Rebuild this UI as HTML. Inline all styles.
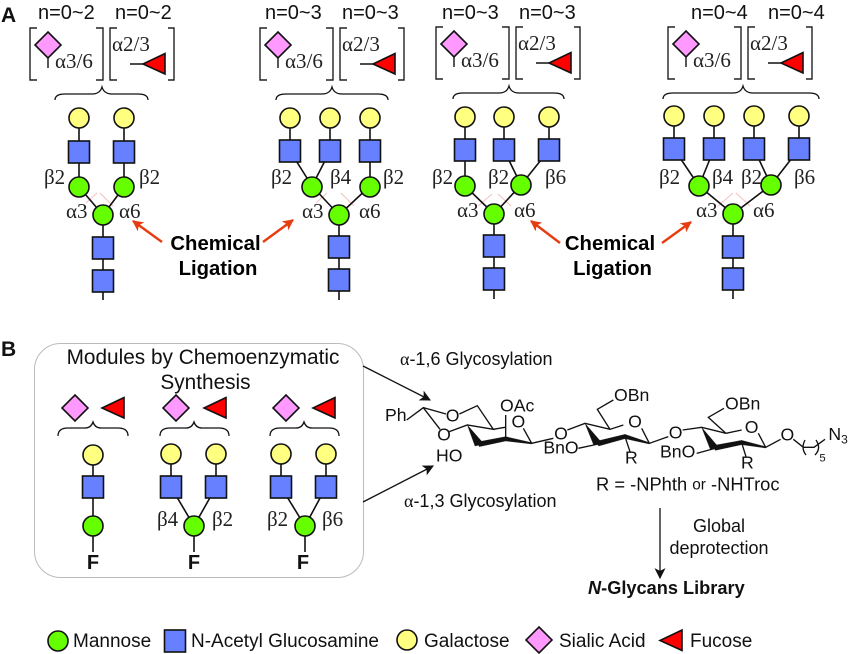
<!DOCTYPE html>
<html><head><meta charset="utf-8"><style>
html,body{margin:0;padding:0;background:#fff}
svg{display:block}
text{font-family:"Liberation Sans",sans-serif;fill:#111}
.g{font-family:"Liberation Serif",serif;font-size:21px;fill:#222}
.n{font-size:20px}
.c{font-size:20.3px;font-weight:bold;text-anchor:middle;fill:#000}
.l{font-size:19px}
.F{font-size:20px;font-weight:bold;text-anchor:middle;fill:#111}
.b{font-size:20.8px;text-anchor:middle}
.t{font-size:18px}
.mol text{font-size:53px}
.mol .o{text-anchor:middle}
.mol line,.mol path{stroke:#111;stroke-width:4;fill:none}
.mol .w{fill:#111;stroke:#111;stroke-width:1}
</style></head><body>
<svg width="848" height="654" viewBox="0 0 848 654" xmlns="http://www.w3.org/2000/svg">
<defs>
<circle id="ga" r="10" fill="#ffff80" stroke="#111" stroke-width="1.6"/>
<circle id="ma" r="10" fill="#66ff00" stroke="#111" stroke-width="1.6"/>
<rect id="sq" x="-10.500" y="-11" width="21" height="22" fill="#6680ff" stroke="#111" stroke-width="1.6"/>
<path id="di" d="M0-13L13 0L0 13L-13 0Z" fill="#ff99ff" stroke="#111" stroke-width="1.6"/>
<path id="tr" d="M11-10.500V10L-11 0Z" fill="#ff0000" stroke="#111" stroke-width="1.6"/>
<g id="hd" fill="none" stroke="#222" stroke-width="1.4">
<path d="M37 28H30V80H37M96 28H103V80H96M117 28H110V80H117M168 28H174V80H168"/>
<path d="M48 56V68M130 64H146" stroke="#111"/>
<use href="#di" x="48" y="45"/>
<use href="#tr" x="154" y="64"/>
</g>
<marker id="ar" viewBox="0 0 10 10" refX="9" refY="5" markerWidth="14" markerHeight="11" markerUnits="userSpaceOnUse" orient="auto"><path d="M0 0L10 5L0 10L2.500 5Z" fill="#e63c10"/></marker>
<marker id="ak" viewBox="0 0 10 10" refX="9" refY="5" markerWidth="15" markerHeight="11" markerUnits="userSpaceOnUse" orient="auto"><path d="M0 0L10 5L0 10L2.500 5Z" fill="#111"/></marker>
</defs>

<text x="1" y="22" style="font-size:21px;font-weight:bold;fill:#111">A</text>
<text x="1" y="356" style="font-size:21px;font-weight:bold;fill:#111">B</text>

<!-- headers -->
<use href="#hd"/><use href="#hd" x="230"/><use href="#hd" x="406" y="-1"/><use href="#hd" x="638" y="-1"/>
<text class="n" x="38" y="19">n=0~2</text><text class="n" x="115" y="19">n=0~2</text>
<text class="n" x="265" y="19">n=0~3</text><text class="n" x="342" y="19">n=0~3</text>
<text class="n" x="442" y="19">n=0~3</text><text class="n" x="519" y="19">n=0~3</text>
<text class="n" x="691" y="19">n=0~4</text><text class="n" x="768" y="19">n=0~4</text>
<text class="g" x="55" y="68">α3/6</text><text class="g" x="112" y="51">α2/3</text>
<text class="g" x="285" y="68">α3/6</text><text class="g" x="342" y="51">α2/3</text>
<text class="g" x="461" y="67">α3/6</text><text class="g" x="518" y="50">α2/3</text>
<text class="g" x="693" y="67">α3/6</text><text class="g" x="750" y="50">α2/3</text>

<!-- braces -->
<g fill="none" stroke="#111" stroke-width="1.3">
<path d="M55 100Q55 94 65 94H92Q100 94 102 87Q104 94 112 94H138Q148 94 148 100"/>
<path d="M276 100Q276 94 286 94H322Q330 94 332 87Q334 94 342 94H378Q388 94 388 100"/>
<path d="M453 99Q453 93 463 93H499Q507 93 509 86Q511 93 519 93H554Q564 93 564 99"/>
<path d="M663 99Q663 93 673 93H733Q741 93 743 86Q745 93 753 93H809Q819 93 819 99"/>
<path d="M58 436Q58 428 68 428H85Q91 428 93 422Q95 428 101 428H118Q128 428 128 436"/>
<path d="M160 436Q160 428 170 428H186Q192 428 194 422Q196 428 202 428H219Q229 428 229 436"/>
<path d="M270 436Q270 428 280 428H296Q302 428 304 422Q306 428 312 428H329Q339 428 339 436"/>
</g>

<!-- faint ligation lines -->
<g stroke="#f9c0c0" stroke-width="1" fill="none">
<path d="M86 203L97 193M100 193L113 206"/>
<path d="M316 203L327 193M341 193L354 206"/>
<path d="M478 206L492 194M498 194L511 206"/>
<path d="M718 206L733 193M736 193L750 206"/>
</g>

<!-- bonds -->
<g stroke="#111" stroke-width="1.6" fill="none">
<path d="M79 118V187M124 118V187M79 187L103 215M124 187L103 215M103 215V300"/>
<path d="M290 118V151L312 186M330 118V151L312 186M370 118V186L339 215M312 186L339 215M339 215V300"/>
<path d="M465 117V186L494 214M504 117V150L521 185M549 117V150L521 185L494 214M494 214V299"/>
<path d="M674 116V149L699 186M714 116V149L699 186L733 214M754 116V149L771 185M799 116V149L771 185L733 214M733 214V299"/>
<path d="M93 455V552M171 454V487L194 526M216 454V487L194 526M194 526V552M281 454V487L305 526M326 454V487L305 526M305 526V552"/>
</g>

<!-- glycan 1 -->
<use href="#ga" x="79" y="118"/><use href="#ga" x="124" y="118"/>
<use href="#sq" x="79" y="152"/><use href="#sq" x="124" y="152"/>
<use href="#ma" x="79" y="187"/><use href="#ma" x="124" y="187"/><use href="#ma" x="103" y="215"/>
<use href="#sq" x="103" y="248"/><use href="#sq" x="103" y="281"/>
<!-- glycan 2 -->
<use href="#ga" x="290" y="118"/><use href="#ga" x="330" y="118"/><use href="#ga" x="370" y="118"/>
<use href="#sq" x="290" y="151"/><use href="#sq" x="330" y="151"/><use href="#sq" x="370" y="151"/>
<use href="#ma" x="312" y="187"/><use href="#ma" x="370" y="187"/><use href="#ma" x="339" y="215"/>
<use href="#sq" x="339" y="247"/><use href="#sq" x="339" y="280"/>
<!-- glycan 3 -->
<use href="#ga" x="465" y="117"/><use href="#ga" x="504" y="117"/><use href="#ga" x="549" y="117"/>
<use href="#sq" x="465" y="150"/><use href="#sq" x="504" y="150"/><use href="#sq" x="549" y="150"/>
<use href="#ma" x="465" y="186"/><use href="#ma" x="521" y="185"/><use href="#ma" x="494" y="214"/>
<use href="#sq" x="494" y="246"/><use href="#sq" x="494" y="279"/>
<!-- glycan 4 -->
<use href="#ga" x="674" y="116"/><use href="#ga" x="714" y="116"/><use href="#ga" x="754" y="116"/><use href="#ga" x="799" y="116"/>
<use href="#sq" x="674" y="149"/><use href="#sq" x="714" y="149"/><use href="#sq" x="754" y="149"/><use href="#sq" x="799" y="149"/>
<use href="#ma" x="699" y="186"/><use href="#ma" x="771" y="185"/><use href="#ma" x="733" y="214"/>
<use href="#sq" x="733" y="247"/><use href="#sq" x="733" y="279"/>

<!-- linkage labels -->
<text class="g" x="44" y="184">β2</text><text class="g" x="139" y="184">β2</text>
<text class="g" x="66" y="218">α3</text><text class="g" x="119" y="218">α6</text>
<text class="g" x="271" y="184">β2</text><text class="g" x="330" y="184">β4</text><text class="g" x="383" y="184">β2</text>
<text class="g" x="302" y="218">α3</text><text class="g" x="359" y="218">α6</text>
<text class="g" x="432" y="184">β2</text><text class="g" x="488" y="184">β2</text><text class="g" x="545" y="184">β6</text>
<text class="g" x="457" y="217">α3</text><text class="g" x="514" y="217">α6</text>
<text class="g" x="659" y="184">β2</text><text class="g" x="712" y="184">β4</text><text class="g" x="741" y="184">β2</text><text class="g" x="794" y="184">β6</text>
<text class="g" x="696" y="217">α3</text><text class="g" x="753" y="217">α6</text>

<!-- chemical ligation -->
<text class="c" x="215.500" y="250">Chemical</text><text class="c" x="218" y="275">Ligation</text>
<text class="c" x="610" y="250">Chemical</text><text class="c" x="612.500" y="275">Ligation</text>
<g stroke="#e63c10" stroke-width="2.400" fill="none">
<line x1="162" y1="242" x2="133" y2="221" marker-end="url(#ar)"/>
<line x1="263" y1="242" x2="293" y2="220" marker-end="url(#ar)"/>
<line x1="560" y1="243" x2="531" y2="221" marker-end="url(#ar)"/>
<line x1="662" y1="243" x2="691" y2="222" marker-end="url(#ar)"/>
</g>

<!-- panel B box -->
<rect x="34.500" y="343.500" width="329" height="234" rx="26" fill="none" stroke="#bbb" stroke-width="1"/>
<text class="b" x="203" y="364">Modules by Chemoenzymatic</text>
<text class="b" x="205.500" y="389">Synthesis</text>
<use href="#di" x="75" y="408"/><use href="#tr" x="113" y="408"/>
<use href="#di" x="176" y="408"/><use href="#tr" x="215" y="408"/>
<use href="#di" x="286" y="408"/><use href="#tr" x="324" y="408"/>

<use href="#ga" x="93" y="455"/><use href="#sq" x="93" y="487"/><use href="#ma" x="93" y="526"/>
<use href="#ga" x="171" y="454"/><use href="#ga" x="216" y="454"/><use href="#sq" x="171" y="487"/><use href="#sq" x="216" y="487"/><use href="#ma" x="194" y="526"/>
<use href="#ga" x="281" y="454"/><use href="#ga" x="326" y="454"/><use href="#sq" x="281" y="487"/><use href="#sq" x="326" y="487"/><use href="#ma" x="305" y="526"/>
<text class="F" x="93" y="569">F</text><text class="F" x="194" y="569">F</text><text class="F" x="303" y="569">F</text>
<text class="g" x="157" y="526">β4</text><text class="g" x="212" y="526">β2</text>
<text class="g" x="267" y="526">β2</text><text class="g" x="322" y="526">β6</text>

<!-- arrows to molecule -->
<g stroke="#111" stroke-width="1.300" fill="none">
<line x1="363" y1="366" x2="430" y2="400" marker-end="url(#ak)"/>
<line x1="363" y1="502" x2="433" y2="466" marker-end="url(#ak)"/>
<line x1="660" y1="508" x2="660" y2="578" marker-end="url(#ak)"/>
</g>
<text class="t" x="400" y="365"><tspan font-family="Liberation Serif">α</tspan>-1,6 Glycosylation</text>
<text class="t" x="404" y="507"><tspan font-family="Liberation Serif">α</tspan>-1,3 Glycosylation</text>

<!-- molecule -->
<g class="mol" transform="translate(360 340) scale(.33333)">
<path d="M140 240L190 203L258 222M298 222L352 197L400 268L322 255L268 275M190 203L240 268M400 268L435 262M437 225V297M490 265L515 310L580 295M622 270L675 250L750 268L790 255M845 265L868 310L925 290M750 268L712 208L760 180M655 325L715 312M795 290L810 335M968 270L1025 262L1098 280L1145 270M1195 280L1217 322L1262 298M1098 280L1045 232L1092 205M1010 340L1065 325M1145 308L1158 350M1300 298L1330 322L1362 322L1395 298M1335 300Q1322 325 1338 345M1368 300Q1385 325 1365 345"/>
<path class="w" d="M322 255L345 318L372 312Z"/>
<path class="w" d="M352 306L437 290L437 303L358 320Z"/>
<path class="w" d="M437 290L515 308L515 312L437 303Z"/>
<path class="w" d="M675 250L701 315L726 309Z"/>
<path class="w" d="M708 304L795 283L795 296L716 318Z"/>
<path class="w" d="M795 283L868 308L868 312L795 296Z"/>
<path class="w" d="M1025 262L1051 328L1076 322Z"/>
<path class="w" d="M1058 317L1145 301L1145 314L1066 331Z"/>
<path class="w" d="M1145 301L1217 320L1217 324L1145 314Z"/>
<text x="75" y="243">Ph</text>
<text class="o" x="278" y="245">O</text>
<text class="o" x="252" y="301">O</text>
<text x="228" y="364">HO</text>
<text x="420" y="215">OAc</text>
<text class="o" x="475" y="262">O</text>
<text class="o" x="603" y="298">O</text>
<text x="550" y="340">BnO</text>
<text x="762" y="183">OBn</text>
<text class="o" x="825" y="262">O</text>
<text x="795" y="370">R</text>
<text class="o" x="947" y="295">O</text>
<text x="900" y="352">BnO</text>
<text x="1095" y="208">OBn</text>
<text class="o" x="1175" y="279">O</text>
<text x="1143" y="385">R</text>
<text class="o" x="1282" y="302">O</text>
<text x="1405" y="300">N<tspan dy="10" style="font-size:36px">3</tspan></text>
<text x="1378" y="364" style="font-size:34px">5</text>
<text x="708" y="452" style="font-size:55px">R = -NPhth <tspan style="font-size:46px" dy="-4">or</tspan><tspan dy="4"> -NHTroc</tspan></text>
</g>

<text class="t" x="719" y="532" text-anchor="middle">Global</text>
<text class="t" x="719" y="554" text-anchor="middle">deprotection</text>
<text x="588" y="594" style="font-size:18.200px;font-weight:bold"><tspan font-style="italic">N</tspan>-Glycans Library</text>

<!-- legend -->
<use href="#ma" x="58" y="641"/><text class="l" x="73" y="647">Mannose</text>
<use href="#sq" x="175" y="641"/><text class="l" x="191" y="647">N-Acetyl Glucosamine</text>
<use href="#ga" x="407" y="640"/><text class="l" x="424" y="647">Galactose</text>
<use href="#di" x="539" y="640"/><text class="l" x="559" y="647">Sialic Acid</text>
<use href="#tr" x="671" y="640.500"/><text class="l" x="690" y="647">Fucose</text>
</svg>
</body></html>
